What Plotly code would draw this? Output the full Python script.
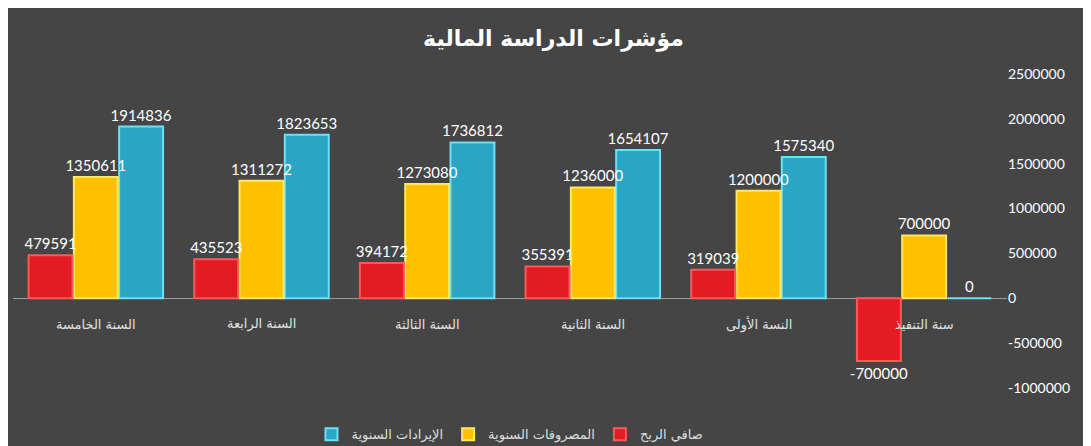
import plotly.graph_objects as go

categories = ["سنة التنفيذ", "النسة الأولى", "السنة الثانية", "السنة الثالثة", "السنة الرابعة", "السنة الخامسة"]
net_profit = [-700000, 319039, 355391, 394172, 435523, 479591]
expenses = [700000, 1200000, 1236000, 1273080, 1311272, 1350611]
revenues = [0, 1575340, 1654107, 1736812, 1823653, 1914836]
tick_vals = [-1000000, -500000, 0, 500000, 1000000, 1500000, 2000000, 2500000]

series = [
    ("الإيرادات السنوية", revenues, "#2aa6c4", "#6ee0f5"),
    ("المصروفات السنوية", expenses, "#ffc000", "#ffe866"),
    ("صافي الربح", net_profit, "#e31b23", "#ff5a5a"),
]

fig = go.Figure()
for name, vals, col, edge in series:
    fig.add_trace(go.Bar(
        x=categories, y=vals, name=name,
        marker=dict(color=col, line=dict(color=edge, width=2)),
        text=[str(v) for v in vals], textposition="outside", constraintext="none",
        textfont=dict(color="white", size=15, family="Lato"),
        cliponaxis=False,
    ))

for c in categories:
    fig.add_annotation(x=c, y=0, xref="x", yref="y", text=c, showarrow=False,
                       yshift=-26, font=dict(color="#e0e0e0", size=13, family="DejaVu Sans"))

fig.update_layout(
    width=1091, height=446,
    paper_bgcolor="#454545", plot_bgcolor="rgba(0,0,0,0)",
    title=dict(text="<b>مؤشرات الدراسة المالية</b>", x=0.5, y=0.95, xanchor="center",
               font=dict(color="white", size=22, family="DejaVu Sans")),
    barmode="group", bargap=0.18, bargroupgap=0.03,
    margin=dict(l=5, r=92, t=66, b=56),
    showlegend=True,
    legend=dict(orientation="h", x=0.5, xanchor="center", y=-0.1, yanchor="top",
                font=dict(color="#dddddd", size=13, family="DejaVu Sans")),
    xaxis=dict(autorange="reversed", showticklabels=False, showgrid=False, zeroline=False),
    yaxis=dict(side="right", range=[-1000000, 2500000], tickvals=tick_vals,
               ticktext=[str(v) for v in tick_vals], showgrid=False,
               zeroline=True, zerolinecolor="#9a9a9a", zerolinewidth=1,
               tickfont=dict(color="white", size=14, family="Lato")),
)
fig.write_html("out.html")
